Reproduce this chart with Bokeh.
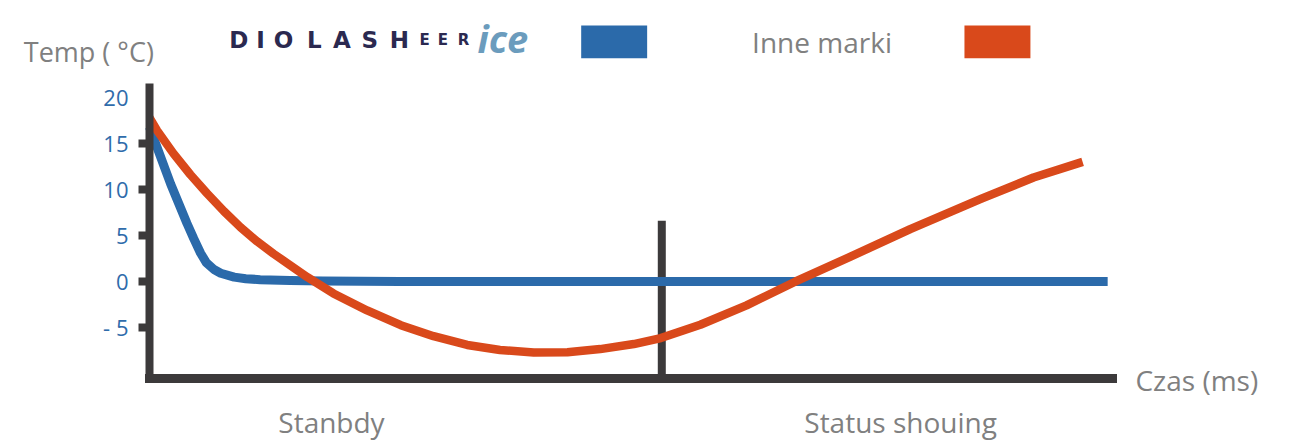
from bokeh.plotting import figure
from bokeh.models import Range1d, LinearAxis, FixedTicker, Label
from bokeh.core.properties import value
from bokeh.embed import file_html
from bokeh.resources import INLINE

# ---------------- data ----------------
# time axis in arbitrary units (0 = start, 100 = end of axis)
blue_x = [0.0, 2.2, 3.9, 4.6, 5.3, 5.9, 6.7, 7.4, 8.8, 10.0, 11.5, 14.6, 18.0, 26.0, 99.5]
blue_y = [16.8, 10.6, 6.3, 4.65, 3.1, 2.05, 1.3, 0.9, 0.47, 0.3, 0.2, 0.1, 0.05, 0.0, 0.0]

red_x = [0.0, 0.8, 2.5, 4.26, 6.0, 7.72, 9.45, 11.18, 12.9, 14.64, 16.4, 19.1, 22.6, 26.1,
         29.5, 33.0, 36.4, 39.9, 43.4, 46.8, 50.3, 53.1, 57.2, 62.0, 67.1, 72.8, 79.0,
         86.4, 91.8, 96.9]
red_y = [17.8, 16.4, 13.9, 11.6, 9.55, 7.65, 5.9, 4.35, 3.0, 1.74, 0.47, -1.3, -3.15, -4.75,
         -5.95, -6.9, -7.45, -7.72, -7.7, -7.35, -6.8, -6.15, -4.7, -2.6, 0.0, 2.7, 5.7,
         9.0, 11.3, 13.0]

y_ticks = [-5, 0, 5, 10, 15, 20]
y_tick_labels = ["- 5", "0", "5", "10", "15", "20"]
y_stub_ticks = [-5, 0, 5, 10, 15]

phase_centers = [18.9, 78.0]
phase_labels = ["Stanbdy", "Status shouing"]
phase_split = 53.2
phase_split_top = 6.6

series_names = ["DIOLASHeer ice", "Inne marki"]
y_title = "Temp ( °C)"
x_title = "Czas (ms)"

# ---------------- styles ----------------
BLUE = "#2b6aaa"
RED = "#d9491b"
AXC = "#3c3a3b"
GRAY = "#808080"
TICKBLUE = "#2f6cab"
NAVY = "#2b2950"
ICE = "#6b9cbd"
FONT = "Open Sans"

AXIS_X = (0.0, 100.0)
AXIS_Y = (-10.54, 21.05)

p = figure(width=1296, height=443, title=None,
           x_range=Range1d(-15.47, 119.11), y_range=Range1d(-17.61, 30.54),
           x_axis_type=None, y_axis_type=None,
           output_backend="svg", toolbar_location=None, min_border=0)
p.outline_line_color = None
p.background_fill_color = "white"

# y axis (inside the frame, at x = 0)
yaxis = LinearAxis(fixed_location=0, bounds=AXIS_Y,
                   ticker=FixedTicker(ticks=y_ticks, minor_ticks=y_stub_ticks))
yaxis.major_label_overrides = {t: l for t, l in zip(y_ticks, y_tick_labels)}
yaxis.axis_line_color = AXC
yaxis.axis_line_width = 8
yaxis.axis_line_cap = "square"
yaxis.major_tick_line_color = None
yaxis.major_tick_in = 0
yaxis.major_tick_out = 11
yaxis.minor_tick_line_color = AXC
yaxis.minor_tick_line_width = 8
yaxis.minor_tick_in = 0
yaxis.minor_tick_out = 11
yaxis.major_label_standoff = 10
yaxis.major_label_text_font = FONT
yaxis.major_label_text_font_size = "22px"
yaxis.major_label_text_color = TICKBLUE
p.add_layout(yaxis, "left")

# x axis (inside the frame, at the bottom of the temperature range)
xaxis = LinearAxis(fixed_location=AXIS_Y[0], bounds=AXIS_X,
                   ticker=FixedTicker(ticks=phase_centers, minor_ticks=[]))
xaxis.major_label_overrides = {t: l for t, l in zip(phase_centers, phase_labels)}
xaxis.axis_line_color = AXC
xaxis.axis_line_width = 9
xaxis.axis_line_cap = "square"
xaxis.major_tick_line_color = None
xaxis.minor_tick_line_color = None
xaxis.major_tick_in = 0
xaxis.major_tick_out = 0
xaxis.major_label_standoff = 25
xaxis.major_label_text_font = FONT
xaxis.major_label_text_font_size = "28px"
xaxis.major_label_text_color = GRAY
p.add_layout(xaxis, "below")

# phase divider
p.segment(x0=[phase_split], y0=[AXIS_Y[0]], x1=[phase_split], y1=[phase_split_top],
          line_color=AXC, line_width=8)

# series
p.line(blue_x, blue_y, line_color=BLUE, line_width=9, line_join="round")
p.line(red_x, red_y, line_color=RED, line_width=8.5, line_join="round")

# legend swatches
p.quad(left=[44.83], right=[51.68], bottom=[24.27], top=[27.83], fill_color=BLUE, line_color=None)
p.quad(left=[84.63], right=[91.48], bottom=[24.27], top=[27.83], fill_color=RED, line_color=None)

# logo text (series 1 name)
LOGO_Y = 26.2
logo_letters = list("DIOLASH")
logo_x = [9.27, 11.53, 13.91, 17.13, 19.99, 22.87, 25.96]
p.text(x=logo_x, y=[LOGO_Y] * len(logo_letters), text=logo_letters,
       text_font=value("DejaVu Sans"), text_font_style="bold", text_font_size="23px",
       text_color=NAVY, text_align="center", text_baseline="alphabetic")
small_letters = list("EER")
p.text(x=[28.56, 30.48, 32.61], y=[LOGO_Y] * 3, text=small_letters,
       text_font=value("DejaVu Sans"), text_font_style="bold", text_font_size="15px",
       text_color=NAVY, text_align="center", text_baseline="alphabetic")
p.add_layout(Label(x=34.06, y=26.5, text="ice", text_font=FONT, text_font_style="bold italic",
                   text_font_size="38px", text_color=ICE, text_baseline="alphabetic"))

# other texts
p.add_layout(Label(x=62.58, y=26.0, text=series_names[1], text_font=FONT,
                   text_font_size="28px", text_color=GRAY, text_baseline="alphabetic"))
p.add_layout(Label(x=-13.05, y=24.95, text=y_title, text_font=FONT,
                   text_font_size="27px", text_color=GRAY, text_baseline="alphabetic"))
p.add_layout(Label(x=102.39, y=-10.75, text=x_title, text_font=FONT,
                   text_font_size="28px", text_color=GRAY, text_baseline="alphabetic"))

open("out.html", "w").write(file_html(p, INLINE))
